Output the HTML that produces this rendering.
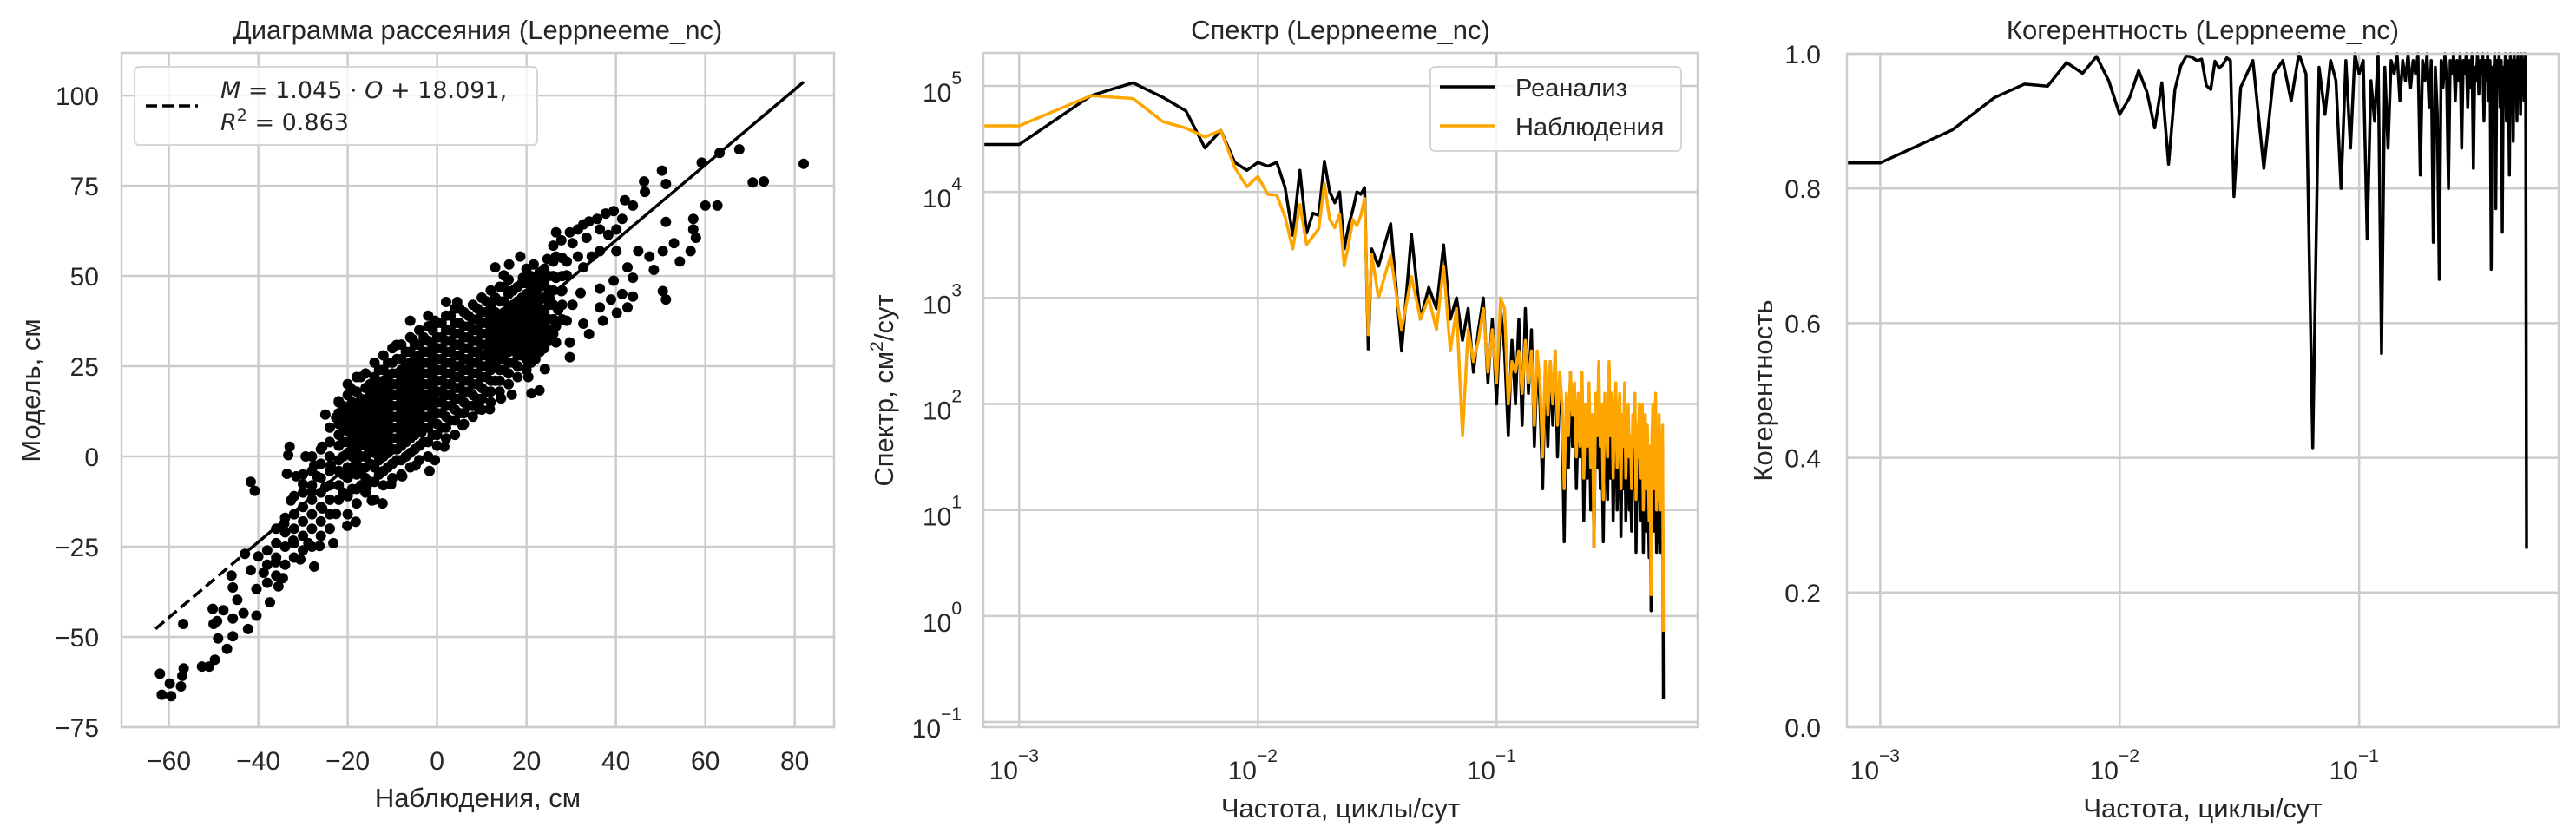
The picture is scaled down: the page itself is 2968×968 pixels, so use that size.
<!DOCTYPE html>
<html><head><meta charset="utf-8">
<style>
html,body{margin:0;padding:0;background:#fff;}
svg{display:block;}
text{font-family:"Liberation Sans","DejaVu Sans",sans-serif;fill:#262626;}
.math{font-family:"DejaVu Sans","Liberation Sans",sans-serif;}
</style></head>
<body>
<svg id="fig" width="2968" height="968" viewBox="0 0 2968 968" xmlns="http://www.w3.org/2000/svg">
<rect x="0" y="0" width="2968" height="968" fill="#fff"/>
<g id="p1"></g>
<g id="p2"></g>
<g id="p3"></g>
</svg>
<script>
// ---------- Panel 1 data ----------
const regression = [1.045, 18.091];
const regressionRange = [-63, 82];
const scatterOutliers = [
[-62,-60.2],[-61.6,-66],[-59.5,-66.4],[-59.8,-62.9],[-57.3,-63.7],[-57,-60.8],[-56.7,-58.7],[-56.8,-46.4],
[-52.6,-58.2],[-51,-58.2],[-49.7,-56.3],[-50.2,-42.2],[-49.2,-45.6],[-49,-50.4],[-50,-46.4],[-47.8,-42.6],
[-47,-53.3],[-45.7,-49.8],[-45.7,-44.9],[-45.7,-36.3],[-46,-33],[-44.7,-39.7],[-43.3,-43.4],[-42.3,-47.8],
[-40.4,-44.1],[-41.7,-7],[-40.8,-9.5],[-43,-27],[-41.7,-31.5],[-40.4,-36.7],[-40,-27.7],[-38.8,-32.2],
[-37.4,-40.4],[-36.1,-29.3],[-35.5,-36],[-34.5,-33.7],[-33,2.7],[-33.3,0.4],[-33.6,-4.8],[-32.7,-12.2],
[-34.2,-18.6],[-32.2,-23.3],[-30.6,-28.5],[-28.8,-24],[-29.4,0],[-27.5,-2.5],[-25.7,2.7],[-25,11.6],
[-22.6,10.8],[-22,15.3],[-19.2,18.7],[-17.1,22],[-20.1,-19.2],[-18.2,-18.1],[-27.5,-30.5],[-26.3,-24.8],
[-23.2,-24],[-22.6,-15.9],[-25.7,-14.4],[-31.9,-15.9],[-30,-7.7],[-28.1,-9.9],[-31.5,-5.5],[-26.9,-5.5],
[-25,-8.5],[-23.8,-2.5],
[46.3,76.2],[46.5,73.3],[50.3,79.2],[51.2,75.5],[59.2,81.4],[63.2,84.1],[67.6,85.1],[70.6,75.9],[73.1,76.2],[82,81.1],
[60,69.5],[62.7,69.5],[57.3,65.8],[57.3,62.9],[57.9,60.6],[56.7,56.9],[54.3,54],[51.2,65],[50.5,56.9],[53,59.1],
[50.5,45.8],[51.2,43.5],[48.5,51.7],[47.5,55.4],[45,56.9],[42.6,52.4],[43.8,49.5],[41.4,45],[43.8,44.3],[42.6,41.3],
[40.2,39.8],[37.1,37.6],[32.7,36.8],[34,33.9],[29.7,31.6],[29.7,27.5],[26.6,31.6],[24.1,24.2],[22.9,18.3],[21.1,17.5],
[19.9,24.2],[32.1,45.3],[36.4,46.5],[39.5,48.7],[38.9,43.5],[36.4,41.3],
[42,71],[43.8,69.5],[39.5,68],[37.7,67.3],[35.8,65.8],[34,65.1],[32.7,64.3],[31.5,62.9],[29.7,62.1],[26.6,62.1],
[26,58.4],[27.8,59.9],[30.3,59.1],[33.4,60.6],[36.4,62.9],[38.3,61.4],[40.1,62.9],[41.4,65.8],[40.1,56.9],[36.4,56.9],
[34.6,55.4],[32.7,52.4],[31.5,55.4],[29,54],[26.6,55.4],[24.7,54.7],[21.6,53.2],[18.6,55.4],[16.1,53.2],[13,52.4],
[14.9,50.2],[19.2,49.5],[22.9,51],[26.6,49.5],[29,50.2],[27.8,45.8],[25.3,43.5],[27.1,40.6],[30.3,42],[29,37.6],
[26.6,36.1],[25.3,33.1],[21.6,31.6],[19.9,27.9],[18,30.2],[21.6,39.1],[24.1,37.6],
[2,42.8],[4.5,42.8],[1.6,2.7],[-1.7,-4],[-0.5,-1],[-4.8,-2.5],[-7.8,-5.5],[-10.3,-7.7],[-12.2,-13],[-14.6,-12.2],
[-15.8,-8.5],[-5.4,9.4],[-3.5,6.7],[5.7,8.6],[9.4,13.1],[11.8,13.1],[14.3,16.1],[16.7,17.1],[20.4,22],[-0.5,37.6],
[-1.7,36.1],[-9.1,30.9],[-5.4,32.4],[-6,37.6]
];
const scatterColumns = [
[-38,[-35,-30,-26]],[-36,[-33,-28,-24,-20]],[-34,[-30,-25,-21,-17]],[-32,[-28,-24,-20,-16,-11]],
[-30,[-26,-22,-18,-14,-10,-5]],[-28,[-25,-20,-16,-12,-8,-4,0]],[-26,[-22,-18,-14,-10,-6,-2,2]],
[-24,[-20,-16,-12,-8,-4,0,4,8]],
[-22,[-12,-8,-4,-1,3,6,9,12,15]],[-20,[-16,-11,-6,-3,1,4,7,10,13,17,20]],[-18,[-13,-9,-5,-2,2,5,8,11,14,18,22]],
[-16,[-10,-6,-3,0,3,6,9,12,15,19,23]],[-14,[-12,-7,-3,1,4,7,10,13,16,19,22,26]],[-12,[-8,-4,0,3,6,9,12,15,18,21,24,28]],
[-10,[-6,-2,2,5,8,11,14,17,20,23,26,30]],[-8,[-5,-1,3,6,9,12,15,18,21,24,27,31]],[-6,[-3,1,5,8,11,14,17,20,23,26,29,33]],
[-4,[-1,3,7,10,13,16,19,22,25,28,31,35]],[-2,[0,4,8,11,14,17,20,23,26,29,32,36,39]],[0,[3,6,9,12,15,18,21,24,27,30,33,37]],
[2,[5,8,11,14,17,20,23,26,29,32,35,39]],[4,[6,10,13,16,19,22,25,28,31,34,37,41]],[6,[9,12,15,18,21,24,27,30,33,36,40]],
[8,[11,14,17,20,23,26,29,32,35,38,42]],[10,[13,16,19,22,25,28,31,34,37,40,44]],[12,[15,18,21,24,27,30,33,36,39,42,46]],
[14,[18,21,24,27,30,33,36,39,43,47]],[16,[20,23,26,29,32,35,38,41,45,49]],[18,[22,25,28,31,34,37,40,43,47]],
[20,[24,27,30,33,36,39,42,45,48,52]],[22,[27,30,33,36,39,42,45,49]],[24,[30,33,36,40,44,48,52]],
[26,[34,38,42,46,50,54]],[28,[38,42,46,50,55]],
[-15,[-7,-2,2,5,8,11,14,17,20]],[-13,[-5,-1,2,5,8,11,14,17,20,24]],[-11,[-3,1,4,7,10,13,16,19,22,26]],
[-9,[-1,2,5,8,11,14,17,20,23,27]],[-7,[0,4,7,10,13,16,19,22,25,29]],[-5,[2,6,9,12,15,18,21,24,27,31]],
[-3,[4,8,11,14,17,20,23,26,29,33]],[-1,[6,10,13,16,19,22,25,28,31,35]],[1,[8,12,15,18,21,24,27,30,33,37]],
[3,[10,14,17,20,23,26,29,32,35,39]],[5,[12,16,19,22,25,28,31,34,37,41]],[7,[14,18,21,24,27,30,33,36,39]],
[9,[16,20,23,26,29,32,35,38,41]],[11,[18,22,25,28,31,34,37,40,43]],[13,[21,25,28,31,34,37,40,44]],
[15,[24,28,31,34,37,40,43,47]],[17,[26,30,33,36,39,42,46]],[19,[28,32,35,38,41,44,48]],
[-21,[-10,-5,0,4,8,11,14]],[-17,[-8,-4,0,4,7,10,13,16]],[-19,[-9,-4,0,3,6,9,12,15]],
[21,[26,29,32,35,38,41,44,47,50]],[23,[29,32,35,38,41,44,47,50]],[25,[32,35,38,42,46,50]]
];
const scatterXTicks = [-60,-40,-20,0,20,40,60,80];
const scatterYTicks = [-75,-50,-25,0,25,50,75,100];

// ---------- Panel 2 data ----------
const lowFreq = [0.001,0.002,0.003,0.004,0.005,0.006,0.007,0.008,0.009,0.010,0.011,0.012,0.013,0.014,0.015,0.016,0.017,0.018,0.019,0.020,0.021,0.022,0.023,0.024,0.025,0.026,0.027,0.028,0.029,0.030];
const highFreqStart = 0.032, highFreqStep = 0.004;
const reanalysisLow = [2.8e4,8.1e4,1.07e5,7.8e4,5.8e4,2.6e4,3.8e4,1.9e4,1.6e4,1.9e4,1.75e4,1.9e4,1.1e4,3.9e3,1.6e4,4.1e3,6.3e3,6e3,1.95e4,1e4,7.9e3,1e4,2.9e3,4.8e3,6.8e3,1e4,9.5e3,1.1e4,3.3e2,2.9e3];
const observedLow = [4.2e4,8.1e4,7.6e4,4.6e4,4e4,3.3e4,3.8e4,1.7e4,1.12e4,1.4e4,9.5e3,9.3e3,5.8e3,2.9e3,7.6e3,3.2e3,3.8e3,4.5e3,1.2e4,5.5e3,4.6e3,6.2e3,2e3,3.2e3,5.5e3,4.8e3,6e3,8.7e3,4.5e2,2.6e3];
const reanalysisHighLog10 = [3.3,3.7,2.5,3.6,2.8,3.1,2.9,3.5,2.8,3.0,2.6,2.9,2.3,2.7,3.0,2.2,2.8,2.0,2.9,2.5,1.7,2.6,2.0,2.8,1.8,2.9,2.1,2.7,1.6,2.4,2.0,1.2,2.3,1.6,2.4,1.8,2.5,1.5,2.2,1.9,0.7,2.0,1.4,2.3,1.6,2.1,1.2,1.9,1.5,2.2,0.9,1.8,1.3,2.0,1.0,1.7,0.65,1.9,1.4,2.1,1.2,1.7,0.7,1.8,1.5,1.1,2.3,1.3,1.8,0.9,1.6,1.9,1.0,1.5,1.8,0.75,1.6,1.2,1.9,0.9,1.5,1.7,1.0,1.3,0.8,1.5,1.2,1.8,0.6,1.4,1.1,1.7,0.9,1.3,1.6,0.6,1.2,1.5,0.8,1.4,1.0,0.55,1.2,0.05,1.3,1.6,0.8,1.1,1.7,0.6,1.0,0.7,1.5,0.6,1.2,0.65,1.6,-0.78];
const observedHighLog10 = [3.0,3.4,2.7,3.2,2.8,3.0,2.7,3.3,2.5,2.9,1.7,2.7,2.4,2.6,2.9,2.3,2.7,2.2,3.0,2.9,2.0,2.4,2.3,2.5,2.1,2.6,2.2,2.5,1.8,2.5,2.2,1.5,2.4,1.9,2.4,2.0,2.5,1.8,2.3,2.0,1.2,2.1,1.7,2.3,1.9,2.2,1.5,2.1,1.6,2.3,1.3,2.0,1.6,2.2,1.4,1.9,0.65,2.1,1.7,2.4,1.6,2.0,1.1,2.1,1.8,1.5,2.4,1.7,2.1,1.3,1.9,2.2,1.4,1.8,2.1,1.2,1.9,1.6,2.2,1.3,1.8,2.0,1.5,1.7,1.2,1.9,1.6,2.1,1.1,1.8,1.5,2.0,1.3,1.7,2.0,1.0,1.6,1.9,1.2,1.8,1.4,0.9,1.6,0.2,1.7,2.0,1.2,1.5,2.1,1.0,1.4,1.1,1.9,1.0,1.6,1.2,1.8,-0.15];
const specXTickExp = [-3,-2,-1];
const specYTickExp = [-1,0,1,2,3,4,5];

// ---------- Panel 3 data ----------
const coherenceLow = [0.838,0.887,0.935,0.955,0.952,0.987,0.971,0.996,0.96,0.91,0.935,0.975,0.943,0.89,0.957,0.836,0.947,0.982,0.997,0.995,0.99,0.992,0.953,0.947,0.989,0.979,0.984,0.994,0.99,0.788];
const coherenceHigh = [0.95,0.99,0.83,0.97,0.99,0.93,1.0,0.97,0.415,0.98,0.91,0.99,0.96,0.80,0.99,0.86,1.0,0.97,0.99,0.725,0.96,0.90,1.0,0.555,0.98,0.86,0.99,0.97,1.0,0.93,0.99,0.96,1.0,0.95,0.99,0.97,1.0,0.82,0.99,0.96,1.0,0.92,0.99,0.72,0.98,0.91,0.665,0.99,0.95,1.0,0.96,0.80,0.99,0.97,1.0,0.93,0.99,0.96,1.0,0.86,0.99,0.97,1.0,0.92,0.99,0.95,1.0,0.83,0.98,0.96,1.0,0.94,0.99,0.97,1.0,0.90,0.99,0.96,1.0,0.93,0.99,0.68,0.98,0.95,1.0,0.77,0.99,0.96,1.0,0.92,0.99,0.735,0.98,0.95,1.0,0.90,0.99,0.96,0.82,1.0,0.94,0.99,0.87,1.0,0.96,0.99,0.90,1.0,0.95,0.99,0.91,1.0,0.97,0.99,0.93,1.0,0.96,0.265];
const cohYTicks = [0.0,0.2,0.4,0.6,0.8,1.0];

// ---------- helpers ----------
const NS = 'http://www.w3.org/2000/svg';
function mk(parent, tag, attrs, txt){
  const e = document.createElementNS(NS, tag);
  for (const k in attrs) e.setAttribute(k, attrs[k]);
  if (txt !== undefined) e.textContent = txt;
  parent.appendChild(e);
  return e;
}
const GRID = '#cccccc';
function pathD(pts){ return pts.map((p,i)=>(i?'L':'M')+p[0].toFixed(2)+' '+p[1].toFixed(2)).join(''); }
function log10(v){ return Math.log(v)/Math.LN10; }

// ===== Panel 1 =====
(function(){
  const g = document.getElementById('p1');
  const L=140,R=961,T=61,B=838, x0=-70.6,x1=88.8,y0=-75,y1=111.8;
  const X = v => L + (v-x0)/(x1-x0)*(R-L);
  const Y = v => B - (v-y0)/(y1-y0)*(B-T);
  scatterXTicks.forEach(t=>{
    const l = mk(g,'line',{x1:X(t),x2:X(t),y1:T,y2:B,stroke:GRID,'stroke-width':2.5});
    
    
    const tx = mk(g,'text',{x:X(t),y:887,'font-size':30,'text-anchor':'middle'}, String(t).replace('-','\u2212'));
    
    
  });
  scatterYTicks.forEach(t=>{
    const l = mk(g,'line',{x1:L,x2:R,y1:Y(t),y2:Y(t),stroke:GRID,'stroke-width':2.5});
    
    
    const tx = mk(g,'text',{x:114,y:Y(t)+11,'font-size':30,'text-anchor':'end'}, String(t).replace('-','\u2212'));
    
    
  });
  const pts = scatterOutliers.slice();
  scatterColumns.forEach(c=>c[1].forEach(m=>pts.push([c[0],m])));
  const sg = mk(g,'g',{});
  
  
  pts.forEach(p=>{
    const c = mk(sg,'circle',{cx:X(p[0]).toFixed(1),cy:Y(p[1]).toFixed(1),r:6,fill:'#000'});
    
    
  });
  const a=regression[0], b=regression[1];
  const xs=regressionRange[0], xe=regressionRange[1], xm=-42;
  const dl = mk(g,'line',{x1:X(xs),y1:Y(a*xs+b),x2:X(xm),y2:Y(a*xm+b),stroke:'#000','stroke-width':3.5,'stroke-dasharray':'13,6'});
  
  
  const sl = mk(g,'line',{x1:X(xm),y1:Y(a*xm+b),x2:X(xe),y2:Y(a*xe+b),stroke:'#000','stroke-width':3.5});
  
  
  const sp = mk(g,'rect',{x:L,y:T,width:R-L,height:B-T,fill:'none',stroke:GRID,'stroke-width':2.5});
  
  
  const lg = mk(g,'g',{});
  
  
  mk(lg,'rect',{x:155,y:77,width:464,height:90,rx:5,fill:'#fff','fill-opacity':0.8,stroke:'#d6d6d6','stroke-width':2});
  const ll = mk(lg,'line',{x1:168,x2:228,y1:122,y2:122,stroke:'#000','stroke-width':3.5,'stroke-dasharray':'13,6'});
  
  
  const t1 = mk(lg,'text',{x:254,y:113,'font-size':27,'class':'math'});
  
  
  t1.innerHTML = '<tspan font-style="italic">M</tspan> = 1.045 · <tspan font-style="italic">O</tspan> + 18.091,';
  const t2 = mk(lg,'text',{x:254,y:150,'font-size':27,'class':'math'});
  
  
  t2.innerHTML = '<tspan font-style="italic">R</tspan><tspan font-size="19" dy="-11">2</tspan><tspan dy="11"> = 0.863</tspan>';
  const tt = mk(g,'text',{x:(L+R)/2,y:45,'font-size':31,'text-anchor':'middle'},'Диаграмма рассеяния (Leppneeme_nc)');
  
  
  const xl = mk(g,'text',{x:(L+R)/2,y:930,'font-size':31,'text-anchor':'middle'},'Наблюдения, см');
  
  
  const yl = mk(g,'text',{x:0,y:0,'font-size':31,'text-anchor':'middle',transform:'translate(46,450) rotate(-90)'},'Модель, см');
  
  
})();

function expLabel(g, x, y, e, anchor, name){
  const t = mk(g,'text',{x:x,y:y,'font-size':30,'text-anchor':anchor});
  
  
  t.innerHTML = '10<tspan font-size="21" dy="-20">'+String(e).replace('-','\u2212')+'</tspan>';
  return t;
}
function highFreqAt(i){ return highFreqStart + highFreqStep*i; }

// ===== Panel 2 =====
(function(){
  const g = document.getElementById('p2');
  const L=1133,R=1956,T=61,B=838, lx0=-3.150,lx1=-0.1575, ly0=-1.049, ly1=5.311;
  const X = f => L + (log10(f)-lx0)/(lx1-lx0)*(R-L);
  const YL = l => B - (l-ly0)/(ly1-ly0)*(B-T);
  specXTickExp.forEach(e=>{
    const x = X(Math.pow(10,e));
    const l = mk(g,'line',{x1:x,x2:x,y1:T,y2:B,stroke:GRID,'stroke-width':2.5});
    
    
    expLabel(g, x-6, 898, e, 'middle', 'x-tick-label');
  });
  specYTickExp.forEach(e=>{
    const y = YL(e);
    const l = mk(g,'line',{x1:L,x2:R,y1:y,y2:y,stroke:GRID,'stroke-width':2.5});
    
    
    expLabel(g, 1108, y+18, e, 'end', 'y-tick-label');
  });
  function series(lowVals, highLogs){
    const pts = [[L, YL(log10(lowVals[0]))]];
    lowFreq.forEach((f,i)=>pts.push([X(f), YL(log10(lowVals[i]))]));
    highLogs.forEach((l,i)=>pts.push([X(highFreqAt(i)), YL(l)]));
    return pts;
  }
  const clip = mk(g,'clipPath',{id:'c2'});
  mk(clip,'rect',{x:L,y:T,width:R-L,height:B-T});
  const bl = mk(g,'path',{d:pathD(series(reanalysisLow,reanalysisHighLog10)),fill:'none',stroke:'#000','stroke-width':3.5,'stroke-linejoin':'round','clip-path':'url(#c2)'});
  
  
  const ol = mk(g,'path',{d:pathD(series(observedLow,observedHighLog10)),fill:'none',stroke:'#ffa500','stroke-width':3.5,'stroke-linejoin':'round','clip-path':'url(#c2)'});
  
  
  const sp = mk(g,'rect',{x:L,y:T,width:R-L,height:B-T,fill:'none',stroke:GRID,'stroke-width':2.5});
  
  
  const lg = mk(g,'g',{});
  
  
  mk(lg,'rect',{x:1648,y:77,width:289,height:97,rx:5,fill:'#fff','fill-opacity':0.8,stroke:'#d6d6d6','stroke-width':2});
  const e1 = mk(lg,'line',{x1:1659,x2:1722,y1:100,y2:100,stroke:'#000','stroke-width':3.5});
  
  
  const e2 = mk(lg,'line',{x1:1659,x2:1722,y1:145,y2:145,stroke:'#ffa500','stroke-width':3.5});
  
  
  const lt1 = mk(lg,'text',{x:1746,y:111,'font-size':29},'Реанализ');
  
  
  const lt2 = mk(lg,'text',{x:1746,y:156,'font-size':29},'Наблюдения');
  
  
  const tt = mk(g,'text',{x:(L+R)/2,y:45,'font-size':31,'text-anchor':'middle'},'Спектр (Leppneeme_nc)');
  
  
  const xl = mk(g,'text',{x:(L+R)/2,y:942,'font-size':31,'text-anchor':'middle'},'Частота, циклы/сут');
  
  
  const yl = mk(g,'text',{x:0,y:0,'font-size':31,'text-anchor':'middle',transform:'translate(1029,450) rotate(-90)'});
  
  
  yl.innerHTML = 'Спектр, см<tspan font-size="21" dy="-12">2</tspan><tspan dy="12">/сут</tspan>';
})();

// ===== Panel 3 =====
(function(){
  const g = document.getElementById('p3');
  const L=2128,R=2948,T=62,B=838, lx0=-3.139,lx1=-0.167;
  const X = f => L + (log10(f)-lx0)/(lx1-lx0)*(R-L);
  const Y = c => B - c*(B-T);
  specXTickExp.forEach(e=>{
    const x = X(Math.pow(10,e));
    const l = mk(g,'line',{x1:x,x2:x,y1:T,y2:B,stroke:GRID,'stroke-width':2.5});
    
    
    expLabel(g, x-6, 898, e, 'middle', 'x-tick-label');
  });
  cohYTicks.forEach(t=>{
    const l = mk(g,'line',{x1:L,x2:R,y1:Y(t),y2:Y(t),stroke:GRID,'stroke-width':2.5});
    
    
    const tx = mk(g,'text',{x:2098,y:Y(t)+11,'font-size':30,'text-anchor':'end'}, t.toFixed(1));
    
    
  });
  const pts = [[L, Y(coherenceLow[0])]];
  lowFreq.forEach((f,i)=>pts.push([X(f), Y(coherenceLow[i])]));
  coherenceHigh.forEach((c,i)=>pts.push([X(highFreqAt(i)), Y(c)]));
  const clip = mk(g,'clipPath',{id:'c3'});
  mk(clip,'rect',{x:L,y:T-2,width:R-L,height:B-T+2});
  const cl = mk(g,'path',{d:pathD(pts),fill:'none',stroke:'#000','stroke-width':3.5,'stroke-linejoin':'round','clip-path':'url(#c3)'});
  
  
  const sp = mk(g,'rect',{x:L,y:T,width:R-L,height:B-T,fill:'none',stroke:GRID,'stroke-width':2.5});
  
  
  const tt = mk(g,'text',{x:(L+R)/2,y:45,'font-size':31,'text-anchor':'middle'},'Когерентность (Leppneeme_nc)');
  
  
  const xl = mk(g,'text',{x:(L+R)/2,y:942,'font-size':31,'text-anchor':'middle'},'Частота, циклы/сут');
  
  
  const yl = mk(g,'text',{x:0,y:0,'font-size':31,'text-anchor':'middle',transform:'translate(2042,450) rotate(-90)'},'Когерентность');
  
  
})();
</script>
</body></html>
